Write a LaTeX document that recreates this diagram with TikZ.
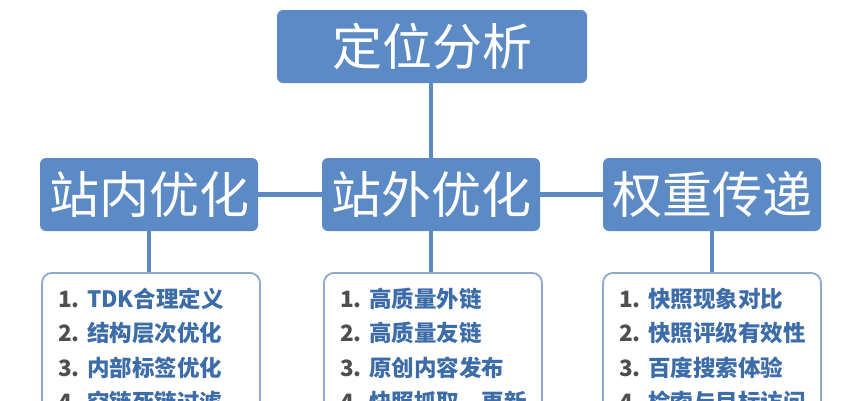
\documentclass[tikz,border=0pt]{standalone}
\usepackage{fontspec}
\newfontfamily\cjk{Noto Sans CJK SC}
\usetikzlibrary{positioning}
\definecolor{headblue}{HTML}{5B8AC5}
\definecolor{itemblue}{HTML}{3D6DA8}
\definecolor{numgray}{HTML}{4E4E4E}
\definecolor{listedge}{HTML}{8EA9CE}
\tikzset{font=\cjk}
\newcommand{\itm}[2]{{\color{numgray}#1.}~#2}

\begin{document}
\begin{tikzpicture}[x=1pt,y=-1pt]
	\clip (0,0) rectangle (867,400);
	\tikzstyle{head}=[fill=headblue, rounded corners=6pt, text=white, inner sep=0pt,
		minimum width=218pt, minimum height=73pt, font=\cjk\fontsize{50}{50}\selectfont]
	\tikzstyle{list}=[draw=listedge, line width=1.8pt, fill=white, rounded corners=10pt,
		anchor=north, align=left, text=itemblue, text width=186pt, inner xsep=16pt, inner ysep=15pt,
		font=\cjk\bfseries\fontsize{22.5}{34.5}\selectfont]
	\tikzstyle{link}=[draw=headblue, line width=4.5pt]

	\node [head, minimum width=310pt] (pos) at (432, 46.5) {定位分析};

	\node [head] (inner) at (149, 194.5) {站内优化};
	\node [head] (outer) at (431, 194.5) {站外优化};
	\node [head] (weight) at (712, 194.5) {权重传递};

	\node [list] (innerlist) at (151, 272) {\itm{1}{TDK合理定义}\\ \itm{2}{结构层次优化}\\ \itm{3}{内部标签优化}\\ \itm{4}{空链死链过滤}};
	\node [list] (outerlist) at (433, 272) {\itm{1}{高质量外链}\\ \itm{2}{高质量友链}\\ \itm{3}{原创内容发布}\\ \itm{4}{快照抓取、更新}};
	\node [list] (weightlist) at (712, 272) {\itm{1}{快照现象对比}\\ \itm{2}{快照评级有效性}\\ \itm{3}{百度搜索体验}\\ \itm{4}{检索与目标访问}};

	\draw [link] (pos.south -| outer.north) -- (outer.north);
	\draw [link] (inner) -- (outer);
	\draw [link] (outer) -- (weight);
	\draw [link] (inner.south) -- (inner.south |- innerlist.north);
	\draw [link] (outer.south) -- (outer.south |- outerlist.north);
	\draw [link] (weight.south) -- (weight.south |- weightlist.north);
\end{tikzpicture}
\end{document}
